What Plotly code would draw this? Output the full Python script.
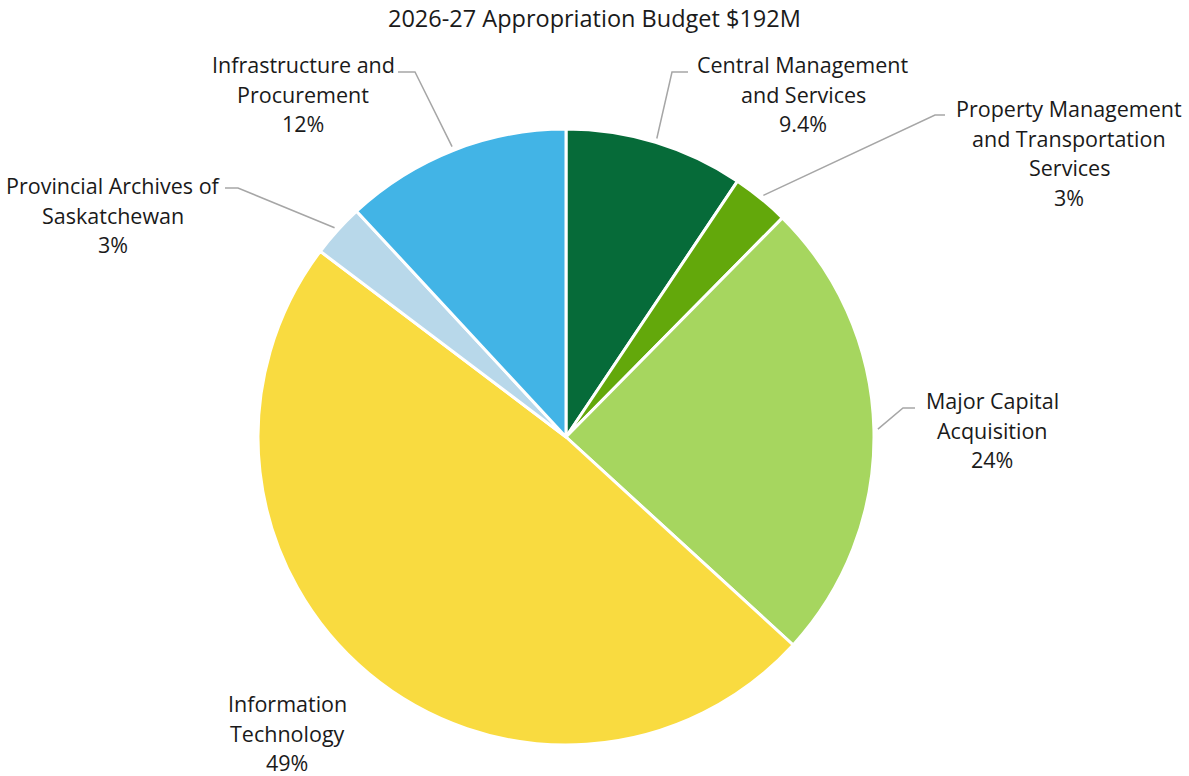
import math
import plotly.graph_objects as go

# ---- data ----
categories = [
    "Central Management<br>and Services",
    "Property Management<br>and Transportation<br>Services",
    "Major Capital<br>Acquisition",
    "Information<br>Technology",
    "Provincial Archives of<br>Saskatchewan",
    "Infrastructure and<br>Procurement",
]
shares = [9.4, 3.0, 24.4, 48.5, 2.8, 11.9]
pct_labels = ["9.4%", "3%", "24%", "49%", "3%", "12%"]
colors = ["#066B39", "#63A80B", "#A6D65F", "#F9DB40", "#B8D8EA", "#42B4E6"]
title_text = "2026-27 Appropriation Budget $192M"

# ---- layout geometry ----
W, H = 1189, 776
CX, CY, R = 566, 437, 308  # pie centre / radius in px
LINE_GAP = 29.7
FONT = dict(family="Open Sans", size=21.5, color="#1a1a1a")


def px(x, y):
    return x / W, 1 - y / H


# label block centres (px) and elbow points for leader lines
label_pos = [(803, 94), (1069, 153), (992, 430), (287, 733), (113, 215), (303, 94)]
elbows = [((672, 72), (688, 72)), ((935, 115), (945, 115)), ((903, 408), (915, 408)),
          None, ((238, 188), (225, 188)), ((415, 72), (398, 72))]

fig = go.Figure()
fig.add_trace(go.Pie(
    labels=[c.replace("<br>", " ") for c in categories],
    values=shares,
    sort=False,
    direction="clockwise",
    rotation=0,
    marker=dict(colors=colors, line=dict(color="white", width=3)),
    textinfo="none",
    hoverinfo="label+percent",
    domain=dict(x=[(CX - R) / W, (CX + R) / W], y=[1 - (CY + R) / H, 1 - (CY - R) / H]),
    showlegend=False,
))

total = sum(shares)
cum = 0.0
annotations = []
shapes = []
for i, (cat, v) in enumerate(zip(categories, shares)):
    mid = (cum + v / 2) / total * 2 * math.pi
    cum += v
    lx, ly = label_pos[i]
    lines = cat.split("<br>") + [pct_labels[i]]
    n = len(lines)
    for k, line in enumerate(lines):
        yk = ly + (k - (n - 1) / 2) * LINE_GAP
        ax_, ay_ = px(lx, yk)
        annotations.append(dict(
            x=ax_, y=ay_, xref="paper", yref="paper", xanchor="center", yanchor="middle",
            text=line, showarrow=False, font=FONT,
        ))
    if elbows[i] is not None:
        ex = CX + (R + 4) * math.sin(mid)
        ey = CY - (R + 4) * math.cos(mid)
        (bx, by), (tx, ty) = elbows[i]
        p0 = px(ex, ey)
        p1 = px(bx, by)
        p2 = px(tx, ty)
        shapes.append(dict(
            type="path", xref="paper", yref="paper",
            path=f"M {p0[0]} {p0[1]} L {p1[0]} {p1[1]} L {p2[0]} {p2[1]}",
            line=dict(color="#A6A6A6", width=1.5),
        ))

annotations.append(dict(
    x=0.5, y=px(0, 18)[1], xref="paper", yref="paper", xanchor="center", yanchor="middle",
    text=title_text, showarrow=False,
    font=dict(family="Open Sans", size=23.5, color="#1a1a1a"),
))

fig.update_layout(
    width=W, height=H,
    margin=dict(l=0, r=0, t=0, b=0),
    paper_bgcolor="white", plot_bgcolor="white",
    annotations=annotations, shapes=shapes,
)

fig.write_html("out.html", config={"displayModeBar": False},
               post_script="document.body.style.margin='0';document.body.style.overflow='hidden';")
